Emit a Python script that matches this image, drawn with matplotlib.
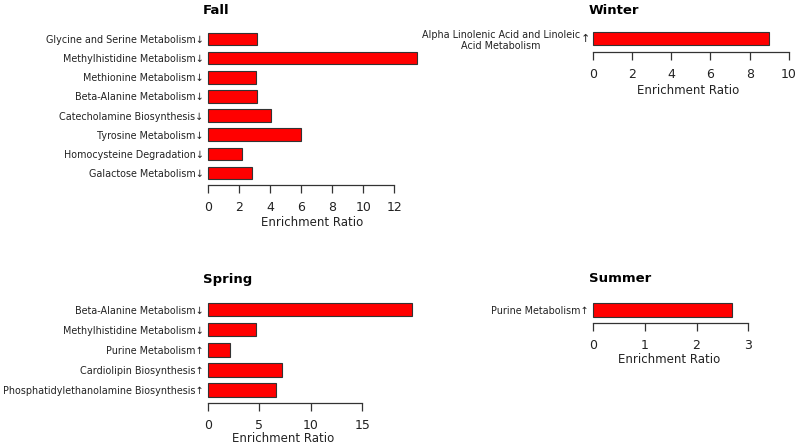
import matplotlib.pyplot as plt
from matplotlib.transforms import blended_transform_factory

W, H = 800, 448

fall_names = ["Glycine and Serine Metabolism", "Methylhistidine Metabolism",
              "Methionine Metabolism", "Beta-Alanine Metabolism",
              "Catecholamine Biosynthesis", "Tyrosine Metabolism",
              "Homocysteine Degradation", "Galactose Metabolism"]
fall_values = [3.19, 13.48, 3.13, 3.17, 4.05, 5.98, 2.23, 2.83]
fall_dirs = ["down"] * 8
fall_ticks = [0, 2, 4, 6, 8, 10, 12]

winter_names = ["Alpha Linolenic Acid and Linoleic\nAcid Metabolism"]
winter_values = [9.0]
winter_dirs = ["up"]
winter_ticks = [0, 2, 4, 6, 8, 10]

spring_names = ["Beta-Alanine Metabolism", "Methylhistidine Metabolism",
                "Purine Metabolism", "Cardiolipin Biosynthesis",
                "Phosphatidylethanolamine Biosynthesis"]
spring_values = [19.8, 4.66, 2.13, 7.18, 6.6]
spring_dirs = ["down", "down", "up", "up", "up"]
spring_ticks = [0, 5, 10, 15]

summer_names = ["Purine Metabolism"]
summer_values = [2.69]
summer_dirs = ["up"]
summer_ticks = [0, 1, 2, 3]

ARROW = {"up": "\u2191", "down": "\u2193"}
TXT = "#222222"


def panel(fig, title, names, values, dirs, ticks, x0, ppu, xmax, c0, pitch,
          axis_px, top_px, title_xy, label_px, label_x):
    ax = fig.add_axes([x0 / W, 1 - axis_px / H, xmax * ppu / W, (axis_px - top_px) / H])
    ypos = list(range(len(values)))
    ax.barh(ypos, values, height=0.66, color="#ff0000", edgecolor="#333333",
            linewidth=0.8, clip_on=False)
    ax.set_xlim(0, xmax)
    ax.set_ylim((axis_px - c0) / pitch, (top_px - c0) / pitch)

    labels = []
    for name, d in zip(names, dirs):
        labels.append(name if "\n" in name else name + ARROW[d])
    ax.set_yticks(ypos)
    ax.set_yticklabels(labels, fontsize=6.9, color=TXT, multialignment="center")
    multi = any("\n" in n for n in names)
    ax.tick_params(axis="y", length=0, pad=9 if multi else 3)
    if multi:
        for y, d in zip(ypos, dirs):
            ax.annotate(ARROW[d], (0, y), xytext=(-5.5, 0), textcoords="offset points",
                        ha="center", va="center", fontsize=8, color=TXT)

    ax.set_xticks(ticks)
    ax.tick_params(axis="x", length=5.5, width=0.9, pad=6, labelsize=9,
                   color="#333333", labelcolor=TXT)
    for s in ["top", "right", "left"]:
        ax.spines[s].set_visible(False)
    ax.spines["bottom"].set_bounds(ticks[0], ticks[-1])
    ax.spines["bottom"].set_color("#333333")
    ax.spines["bottom"].set_linewidth(0.9)

    ax.set_xlabel("Enrichment Ratio", fontsize=8.5, color=TXT)
    ax.xaxis.label.set_va("center")
    h = axis_px - top_px
    ax.xaxis.set_label_coords(label_x, -(label_px - axis_px) / h,
                              transform=blended_transform_factory(ax.transData, ax.transAxes))
    fig.text(title_xy[0] / W, 1 - title_xy[1] / H, title, fontsize=9.5,
             fontweight="bold", ha="center", va="center")
    return ax


fig = plt.figure(figsize=(8, 4.48), dpi=100)

panel(fig, "Fall", fall_names, fall_values, fall_dirs, fall_ticks,
      207.7, 15.55, 13.6, 39, 19.14, 185, 28, (216, 10), 222, 6.7)
panel(fig, "Winter", winter_names, winter_values, winter_dirs, winter_ticks,
      592.7, 19.63, 10.2, 38.5, 20, 52, 28, (614, 10), 91, 4.87)
panel(fig, "Spring", spring_names, spring_values, spring_dirs, spring_ticks,
      207.7, 10.31, 19.9, 309.7, 20.1, 403, 298, (228, 279), 438, 7.33)
panel(fig, "Summer", summer_names, summer_values, summer_dirs, summer_ticks,
      593, 51.77, 3.05, 310, 20, 323, 298, (620, 279), 359, 1.47)

fig.savefig("out.png", dpi=100)
